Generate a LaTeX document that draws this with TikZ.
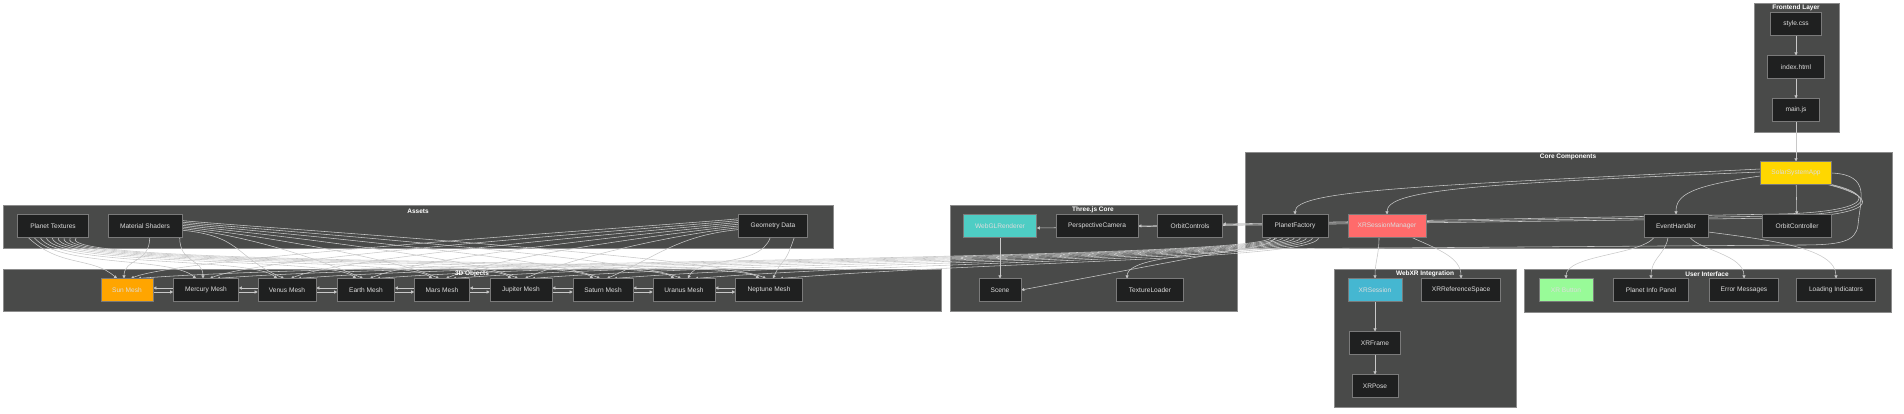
\documentclass[tikz,border=0pt]{standalone}
\usepackage{fontspec}
\setmainfont{Liberation Sans}
\usepackage{xcolor}
\usetikzlibrary{arrows.meta,calc}

\definecolor{groupfill}{HTML}{494A49}
\definecolor{groupline}{HTML}{8C8C8C}
\definecolor{nodefill}{HTML}{1F2020}
\definecolor{nodeline}{HTML}{7A7A7A}
\definecolor{nodetext}{HTML}{DDDDDD}
\definecolor{wirecol}{HTML}{C8C8C8}
\definecolor{appyellow}{HTML}{FFD700}
\definecolor{xrred}{HTML}{FF6B6B}
\definecolor{glteal}{HTML}{4ECDC4}
\definecolor{sunorange}{HTML}{FFA500}
\definecolor{xrblue}{HTML}{45B7D1}
\definecolor{btngreen}{HTML}{98FB98}

\pgfdeclarelayer{bg}
\pgfdeclarelayer{wires}
\pgfsetlayers{bg,wires,main}

\tikzset{
  box/.style={draw=nodeline, fill=nodefill, text=nodetext, line width=0.6pt,
    font=\fontsize{6.6}{8}\selectfont, minimum height=22.5pt, inner xsep=2pt},
  group/.style={draw=groupline, fill=groupfill, line width=0.8pt},
  grouptitle/.style={text=white, font=\fontsize{6.5}{8}\selectfont\bfseries, inner sep=1pt},
  edge/.style={draw=wirecol, line width=0.55pt, -{Triangle[length=3pt,width=3pt]}},
}

\begin{document}
\begin{tikzpicture}[x=1pt,y=-1pt]
\useasboundingbox (0,0) rectangle (1904,413);

% group backgrounds
\begin{pgfonlayer}{bg}
\draw[group] (1754,3) rectangle (1839,132);
\draw[group] (1245,152) rectangle (1892,248);
\draw[group] (3,205) rectangle (833,248);
\draw[group] (950,205) rectangle (1237,311);
\draw[group] (3,269) rectangle (941,311);
\draw[group] (1334,269) rectangle (1516,407);
\draw[group] (1524,269) rectangle (1891,312);
\end{pgfonlayer}

% group titles
\node[grouptitle] (tfront) at (1796,8) {Frontend Layer};
\node[grouptitle] (tcore) at (1568,157) {Core Components};
\node[grouptitle] (tassets) at (418,211) {Assets};
\node[grouptitle] (tthree) at (1093,210) {Three.js Core};
\node[grouptitle] (tobjects) at (472,274) {3D Objects};
\node[grouptitle] (twebxr) at (1425,274) {WebXR Integration};
\node[grouptitle] (tui) at (1707,274) {User Interface};

% frontend layer
\node[box, minimum width=51pt] (css) at (1796,24) {style.css};
\node[box, minimum width=57pt] (html) at (1796,67) {index.html};
\node[box, minimum width=47pt] (mainjs) at (1796,110) {main.js};

% core components
\node[box, fill=appyellow, minimum width=71pt] (app) at (1796,173) {SolarSystemApp};
\node[box, minimum width=66pt] (factory) at (1295,226) {PlanetFactory};
\node[box, fill=xrred, minimum width=78pt] (xrmgr) at (1387,226) {XRSessionManager};
\node[box, minimum width=64pt] (events) at (1676,226) {EventHandler};
\node[box, minimum width=69pt] (orbit) at (1797,226) {OrbitController};

% assets
\node[box, minimum width=71pt] (textures) at (53,226) {Planet Textures};
\node[box, minimum width=74pt] (shaders) at (145,226) {Material Shaders};
\node[box, minimum width=69pt] (geometry) at (773,226) {Geometry Data};

% three.js core
\node[box, fill=glteal, minimum width=73pt] (renderer) at (1000,226) {WebGLRenderer};
\node[box, minimum width=82pt] (camera) at (1097,226) {PerspectiveCamera};
\node[box, minimum width=65pt] (controls) at (1190,226) {OrbitControls};
\node[box, minimum width=42pt] (scene) at (1000,290) {Scene};
\node[box, minimum width=67pt] (texl) at (1150,290) {TextureLoader};

% 3d objects
\node[box, fill=sunorange, minimum width=52pt] (sun) at (127,290) {Sun Mesh};
\foreach \m/\mx/\w/\txt in {mercury/206/65/Mercury, venus/287/58/Venus, earth/366/57/Earth,
    mars/442/55/Mars, jupiter/521/62/Jupiter, saturn/603/60/Saturn,
    uranus/684/62/Uranus, neptune/769/67/Neptune}
  \node[box, minimum width=\w pt] (\m) at (\mx,290) {\txt\ Mesh};

% webxr integration
\node[box, fill=xrblue, minimum width=54pt] (xrs) at (1375,290) {XRSession};
\node[box, minimum width=79pt] (xrref) at (1461,290) {XRReferenceSpace};
\node[box, minimum width=51pt] (xrf) at (1375,343) {XRFrame};
\node[box, minimum width=46pt] (xrp) at (1375,386) {XRPose};

% user interface
\node[box, fill=btngreen, minimum width=54pt] (xrbtn) at (1566,290) {XR Button};
\node[box, minimum width=75pt] (infopanel) at (1651,290) {Planet Info Panel};
\node[box, minimum width=69pt] (errors) at (1744,290) {Error Messages};
\node[box, minimum width=79pt] (loading) at (1836,290) {Loading Indicators};

\begin{pgfonlayer}{wires}
% frontend chain
\draw[edge] (css) -- (html);
\draw[edge] (html) -- (mainjs);
\draw[edge] (mainjs) -- (app);

% app to core components
\draw[edge] (app) -- (orbit);
\draw[edge] ([yshift=4pt]app.west) .. controls (1420,186) and (1295,190) .. (factory.north);
\draw[edge] ([yshift=1pt]app.west) .. controls (1470,184) and (1387,190) .. (xrmgr.north);
\draw[edge] ([yshift=-3pt]app.west) .. controls (1690,186) and (1676,195) .. (events.north);

% app to three.js core
\foreach \t/\dy in {controls/0, camera/2, renderer/4}
  \draw[edge] ([xshift=-\dy pt]app.south east) .. controls ({1880+2*\dy},{196+\dy}) and ({1865+\dy},{212+\dy}) .. ({1780},{214+\dy}) -- ([yshift=2pt-\dy pt]\t.east);
\draw[edge] (app.east) .. controls (1872,175) and (1860,200) .. (1858,225)
  .. controls (1856,242) and (1840,245) .. (1800,245) -- (1240,249) -- (scene.east);
\draw[edge] (renderer) -- (scene);
\draw[edge] ([xshift=-20pt]factory.south) .. controls (1270,256) and (1128,250) .. ([xshift=-23pt]texl.north);

% xr session manager
\draw[edge] ([xshift=-8pt]xrmgr.south) .. controls (1379,255) and (1375,262) .. (xrs.north);
\draw[edge] ([xshift=25pt]xrmgr.south) .. controls (1440,250) and (1461,258) .. (xrref.north);
\draw[edge] (xrs) -- (xrf);
\draw[edge] (xrf) -- (xrp);

% event handler to user interface
\draw[edge] ([xshift=-22pt]events.south) .. controls (1640,255) and (1566,255) .. (xrbtn.north);
\draw[edge] ([xshift=-8pt]events.south) .. controls (1665,255) and (1651,258) .. (infopanel.north);
\draw[edge] ([xshift=14pt]events.south) .. controls (1700,250) and (1744,255) .. (errors.north);
\draw[edge] ([yshift=-6pt]events.east) .. controls (1770,240) and (1836,248) .. (loading.north);

% assets and factory to meshes
\foreach \m [count=\i] in {sun,mercury,venus,earth,mars,jupiter,saturn,uranus,neptune} {
  \draw[edge] ($(textures.south west)+({5+6*\i},0)$) .. controls +({8*(5-\i)},30) and +(-25,-22) .. ([xshift=-10pt]\m.north);
  \ifnum\i<3
    \draw[edge] ($(shaders.south west)+({12+30*\i},0)$) .. controls +(0,26) and +(0,-20) .. ([xshift=-3pt]\m.north);
  \else
    \draw[edge] ($(shaders.east)+(0,{9-1.6*\i})$) .. controls +(60,6) and +(-50,-22) .. ([xshift=-3pt]\m.north);
  \fi
  \ifnum\i>7
    \draw[edge] ($(geometry.south west)+({24*\i-160},0)$) .. controls +(-10,30) and +(10,-22) .. ([xshift=4pt]\m.north);
  \else
    \draw[edge] ($(geometry.west)+(0,{-9+1.8*\i})$) .. controls +(-60,6) and +(50,-22) .. ([xshift=4pt]\m.north);
  \fi
  \draw[edge] ($(factory.south west)+({3+6*\i},0)$) .. controls +(0,22) and +(210,-17) .. ([xshift=11pt]\m.north);
}
\foreach \a/\b in {sun/mercury, mercury/venus, venus/earth, earth/mars, mars/jupiter,
    jupiter/saturn, saturn/uranus, uranus/neptune} {
  \draw[edge] ([yshift=2pt]\b.west) -- ([yshift=2pt]\a.east);
  \draw[edge] ([yshift=-2pt]\a.east) -- ([yshift=-2pt]\b.west);
}
\end{pgfonlayer}

\end{tikzpicture}
\end{document}
